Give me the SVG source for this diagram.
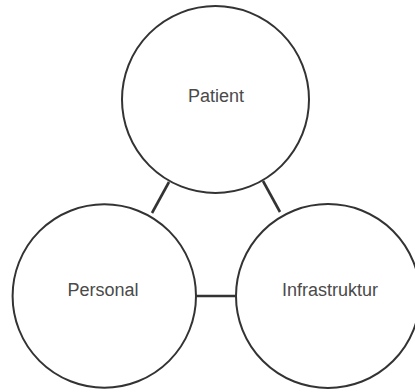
<svg xmlns="http://www.w3.org/2000/svg" width="415" height="392" viewBox="0 0 415 392">
<style>
.node circle{fill:#ffffff;stroke:#333333;stroke-width:2}
.node text{font-family:"Liberation Sans",Arial,sans-serif;font-size:18px;fill:#4a4a4a;text-anchor:middle}
#connectors line{stroke:#333333;stroke-width:2.6}
</style>
<rect width="415" height="392" fill="#ffffff"/>
<g id="connectors">
<line x1="169" y1="182" x2="152" y2="213"/>
<line x1="263" y1="181" x2="280" y2="212"/>
<line x1="196" y1="296" x2="236" y2="296"/>
</g>
<g id="patient" class="node">
<circle cx="215.5" cy="99.5" r="93.5"/>
<text x="216" y="102">Patient</text>
</g>
<g id="personal" class="node">
<circle cx="104.3" cy="296" r="91.7"/>
<text x="103" y="296">Personal</text>
</g>
<g id="infrastruktur" class="node">
<circle cx="328" cy="296" r="92"/>
<text x="330" y="296">Infrastruktur</text>
</g>
</svg>
